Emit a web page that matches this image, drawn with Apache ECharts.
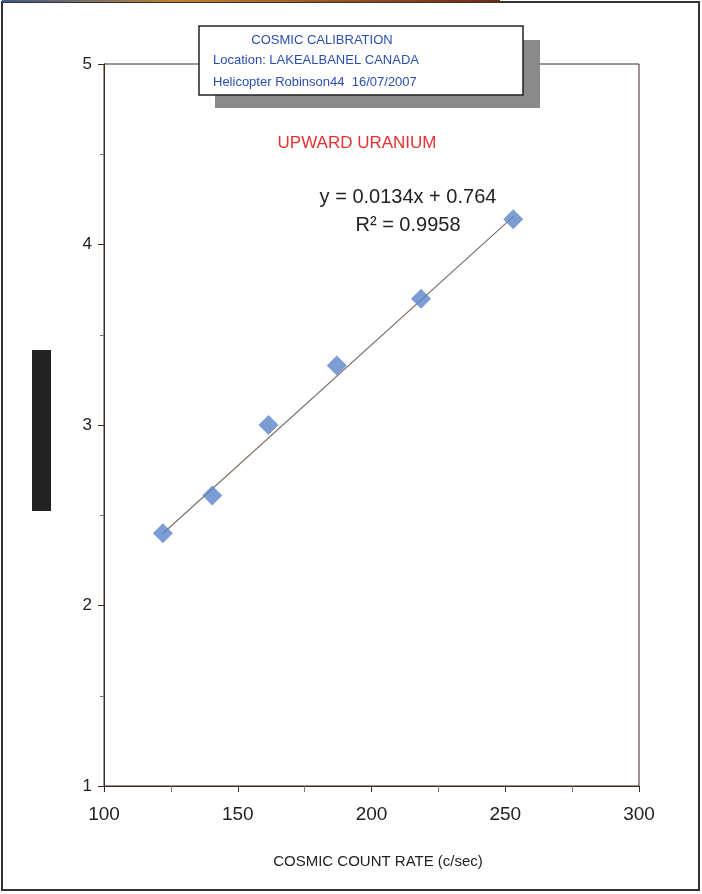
<!DOCTYPE html>
<html>
<head>
<meta charset="utf-8">
<script src="https://cdn.jsdelivr.net/npm/echarts@6/dist/echarts.min.js"></script>
<style>
html,body{margin:0;padding:0;background:#fff;}
#main{width:702px;height:894px;}
</style>
</head>
<body>
<div id="main"></div>
<script>
// cosmic calibration data
var countRate = [122, 140.5, 161.5, 187, 218.5, 253];
var uranium = [2.40, 2.61, 3.00, 3.33, 3.70, 4.14];
var slope = 0.0134, intercept = 0.764;
var boxLines = ['COSMIC CALIBRATION', 'Location: LAKEALBANEL CANADA', 'Helicopter Robinson44  16/07/2007'];

var pts = [];
for (i = 0; i < countRate.length; i++) {
    pts.push([countRate[i], uranium[i]]);
}
var x0 = countRate[0], x1 = countRate[countRate.length - 1];
var trend = [[x0, slope * x0 + intercept], [x1, slope * x1 + intercept]];

var chart = echarts.init(document.getElementById('main'));
var axisCol = '#3a2a22';
var ff = 'Arial, Liberation Sans';
option = {
    animation: false,
    grid: {left: 104, top: 64, right: 63, bottom: 108, show: true, borderColor: axisCol, borderWidth: 1},
    xAxis: {
        type: 'value', min: 100, max: 300, interval: 50,
        axisLine: {lineStyle: {color: axisCol}},
        axisTick: {length: 6, lineStyle: {color: axisCol}},
        minorTick: {show: true, splitNumber: 2, length: 6, lineStyle: {color: '#777'}},
        splitLine: {show: false},
        axisLabel: {fontFamily: ff, fontSize: 19, color: '#222', margin: 19}
    },
    yAxis: {
        type: 'value', min: 1, max: 5, interval: 1,
        axisLine: {show: true, lineStyle: {color: axisCol}},
        axisTick: {show: true, length: 6, lineStyle: {color: axisCol}},
        minorTick: {show: true, splitNumber: 2, length: 4, lineStyle: {color: '#777'}},
        splitLine: {show: false},
        axisLabel: {fontFamily: ff, fontSize: 17, color: '#222', margin: 12}
    },
    series: [
        {
            type: 'line', data: trend, symbol: 'none',
            lineStyle: {color: '#7a7068', width: 1.2}, z: 2
        },
        {
            type: 'scatter', data: pts, symbol: 'diamond', symbolSize: 20,
            itemStyle: {color: '#5b84c9'}, z: 3
        }
    ],
    graphic: [
        // page frame
        {type: 'rect', shape: {x: 2, y: 2, width: 697, height: 888}, style: {fill: 'none', stroke: '#333', lineWidth: 2}, z: 0},
        {type: 'line', shape: {x1: 2, y1: 1, x2: 500, y2: 1},
            style: {stroke: new echarts.graphic.LinearGradient(0, 0, 1, 0, [
                {offset: 0, color: '#3a5a90'}, {offset: 0.35, color: '#c08030'}, {offset: 1, color: '#6a2a10'}]), lineWidth: 2}},
        // black bar on left
        {type: 'rect', shape: {x: 32, y: 350, width: 19, height: 161}, style: {fill: '#222'}},
        // info box with shadow
        {type: 'rect', shape: {x: 215, y: 40, width: 325, height: 68}, style: {fill: '#8a8a8a'}, z: 10},
        {type: 'rect', shape: {x: 199, y: 26, width: 324, height: 69}, style: {fill: '#fff', stroke: '#222', lineWidth: 1.5}, z: 11},
        {type: 'text', x: 322, y: 40, style: {text: boxLines[0], fill: '#2a4fb0', font: '13px ' + ff, align: 'center', verticalAlign: 'middle'}, z: 12},
        {type: 'text', x: 213, y: 60, style: {text: boxLines[1], fill: '#2a4fb0', font: '13px ' + ff, verticalAlign: 'middle'}, z: 12},
        {type: 'text', x: 213, y: 82, style: {text: boxLines[2], fill: '#2a4fb0', font: '13px ' + ff, verticalAlign: 'middle'}, z: 12},
        // title
        {type: 'text', x: 357, y: 143, style: {text: 'UPWARD URANIUM', fill: '#e83030', font: '17px ' + ff, align: 'center', verticalAlign: 'middle'}, z: 12},
        // equation
        {type: 'text', x: 408, y: 197, style: {text: 'y = ' + slope + 'x + ' + intercept, fill: '#222', font: '20px ' + ff, align: 'center', verticalAlign: 'middle'}, z: 12},
        {type: 'text', x: 408, y: 225, style: {text: 'R² = 0.9958', fill: '#222', font: '20px ' + ff, align: 'center', verticalAlign: 'middle'}, z: 12},
        // x axis title
        {type: 'text', x: 378, y: 862, style: {text: 'COSMIC COUNT RATE (c/sec)', fill: '#222', font: '15px ' + ff, align: 'center', verticalAlign: 'middle'}, z: 12}
    ]
};
chart.setOption(option);
</script>
</body>
</html>
